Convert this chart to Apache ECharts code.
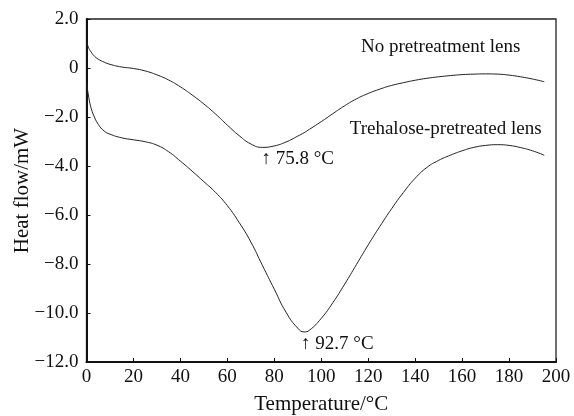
<!DOCTYPE html>
<html>
<head>
<meta charset="utf-8">
<script src="https://cdn.jsdelivr.net/npm/echarts@6/dist/echarts.min.js"></script>
<style>
html,body{margin:0;padding:0;background:#fff;}
#chart{width:574px;height:416px;}
</style>
</head>
<body>
<div id="chart"></div>
<script>
// temperature (°C) sample points
var temps = [0,1,2,3,5,7.5,10,15,20,25,30,35,40,45,50,55,60,65,70,75,80,85,90,92.7,95,100,105,110,115,120,125,130,135,140,145,150,155,160,165,170,175,180,185,190,195];
// heat flow (mW), no pretreatment lens
var noPre = [1.08,0.8,0.65,0.52,0.36,0.24,0.15,0.04,-0.02,-0.12,-0.28,-0.49,-0.77,-1.1,-1.47,-1.88,-2.33,-2.76,-3.1,-3.24,-3.18,-3.02,-2.78,-2.64,-2.5,-2.19,-1.86,-1.54,-1.26,-1.04,-0.86,-0.71,-0.6,-0.5,-0.42,-0.36,-0.31,-0.27,-0.25,-0.24,-0.25,-0.29,-0.36,-0.45,-0.56];
// heat flow (mW), trehalose-pretreated lens
var treh = [-0.58,-1.22,-1.65,-1.92,-2.3,-2.57,-2.7,-2.85,-2.93,-3.01,-3.15,-3.42,-3.8,-4.21,-4.64,-5.08,-5.62,-6.3,-7.1,-8.07,-9.03,-9.97,-10.62,-10.77,-10.7,-10.22,-9.57,-8.82,-8.02,-7.22,-6.46,-5.74,-5.08,-4.5,-4.06,-3.77,-3.56,-3.38,-3.24,-3.16,-3.13,-3.16,-3.25,-3.38,-3.56];
var xTicks = {min:0, max:200, step:20};
var yTicks = {min:-12, max:2, step:2};
var peaks = [[75.8,-3.24,'75.8 °C'],[92.7,-10.8,'92.7 °C']];
var seriesNames = ['No pretreatment lens','Trehalose-pretreated lens'];
var nameSpots = [[150.9,0.86],[153,-2.49]];

function pairs(xs, ys){
    var out = [];
    for(var i=0;i<xs.length;i++){ out.push([xs[i], ys[i]]); }
    return out;
}

var font = 'Liberation Serif';

function yFmt(v){
    if(v == 0){ return '0'; }
    var s = Math.abs(v).toFixed(1);
    return v < 0 ? '\u2212' + s : s;
}

function peakMark(p){
    return {
        coord:[p[0], p[1]],
        symbolSize:0,
        label:{show:true, formatter:'\u2191 ' + p[2], position:[-3,2], align:'left', verticalAlign:'top',
            fontFamily:font, fontSize:19, color:'#111'}
    };
}
function nameMark(xy, name){
    return {
        coord:xy,
        symbolSize:0,
        label:{show:true, formatter:name, position:'inside', align:'center', verticalAlign:'middle',
            fontFamily:font, fontSize:19, color:'#111'}
    };
}

var myChart = echarts.init(document.getElementById('chart'));
var option = {
    animation:false,
    backgroundColor:'#fff',
    grid:{left:86.5, right:18, top:19, bottom:54, show:true, borderColor:'#222', borderWidth:1.3,
        outerBoundsMode:'none', containLabel:false},
    xAxis:{
        type:'value', min:xTicks.min, max:xTicks.max, interval:xTicks.step,
        name:'Temperature/\u00b0C', nameLocation:'middle', nameGap:32, nameMoveOverlap:false,
        nameTextStyle:{fontFamily:font, fontSize:21, color:'#111'},
        axisLine:{show:true, onZero:false, lineStyle:{color:'#111', width:2}},
        axisTick:{show:true, inside:true, length:4, lineStyle:{color:'#111'}},
        axisLabel:{margin:6, fontFamily:font, fontSize:19, color:'#111'},
        splitLine:{show:false}
    },
    yAxis:{
        type:'value', min:yTicks.min, max:yTicks.max, interval:yTicks.step,
        name:'Heat flow/mW', nameLocation:'middle', nameGap:54, nameMoveOverlap:false,
        nameTextStyle:{fontFamily:font, fontSize:21, color:'#111'},
        axisLine:{show:true, onZero:false, lineStyle:{color:'#111', width:2}},
        axisTick:{show:true, inside:true, length:4, lineStyle:{color:'#111'}},
        axisLabel:{margin:8, formatter:yFmt, fontFamily:font, fontSize:19, color:'#111'},
        splitLine:{show:false}
    },
    series:[
        {
            name:seriesNames[0], type:'line', data:pairs(temps, noPre), smooth:0.5,
            showSymbol:false, lineStyle:{color:'#222', width:1}, itemStyle:{color:'#222'},
            markPoint:{silent:true, data:[peakMark(peaks[0]), nameMark(nameSpots[0], seriesNames[0])]}
        },
        {
            name:seriesNames[1], type:'line', data:pairs(temps, treh), smooth:0.5,
            showSymbol:false, lineStyle:{color:'#222', width:1}, itemStyle:{color:'#222'},
            markPoint:{silent:true, data:[peakMark(peaks[1]), nameMark(nameSpots[1], seriesNames[1])]}
        }
    ]
};
myChart.setOption(option);
</script>
</body>
</html>
